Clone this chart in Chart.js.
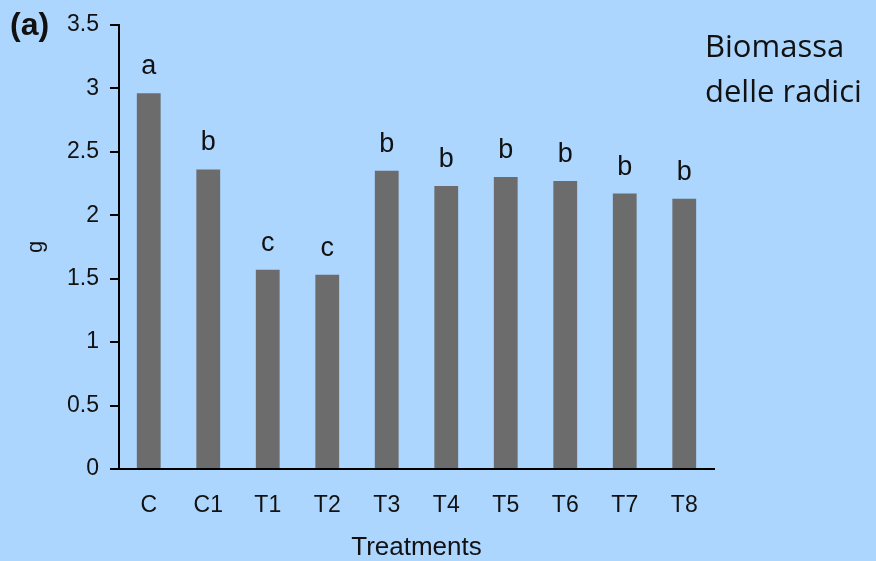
<!DOCTYPE html>
<html>
<head>
<meta charset="utf-8">
<script src="https://cdn.jsdelivr.net/npm/chart.js@4.4.0/dist/chart.umd.min.js"></script>
<style>
  html, body { margin: 0; padding: 0; background: #acd6fe; }
  #wrap { width: 876px; height: 561px; position: relative; }
</style>
</head>
<body>
<div id="wrap"><canvas id="myChart" width="876" height="561"></canvas></div>
<script>
const treatments = ['C', 'C1', 'T1', 'T2', 'T3', 'T4', 'T5', 'T6', 'T7', 'T8']
const biomass = [2.96, 2.36, 1.57, 1.53, 2.35, 2.23, 2.30, 2.27, 2.17, 2.13]
const groups = ['a', 'b', 'c', 'c', 'b', 'b', 'b', 'b', 'b', 'b']
const yTicks = [0, 0.5, 1, 1.5, 2, 2.5, 3, 3.5]

const ink = '#111111'

// letters over the bars + panel tag + side text
const extraText = {
    id: 'extraText',
    afterDatasetsDraw(chart) {
        const ctx = chart.ctx
        const meta = chart.getDatasetMeta(0)
        ctx.save()
        ctx.fillStyle = ink
        ctx.textAlign = 'center'
        ctx.textBaseline = 'alphabetic'
        ctx.font = '27px "Liberation Sans", Arial, sans-serif'
        meta.data.forEach((bar, i) => {
            ctx.fillText(groups[i], bar.x, bar.y - 19)
        })
        ctx.textAlign = 'left'
        ctx.font = 'bold 32px "Liberation Sans", Arial, sans-serif'
        ctx.fillText('(a)', 10, 35)
        ctx.font = '31px "Open Sans", "Noto Sans", sans-serif'
        ctx.fillText('Biomassa', 705, 57)
        ctx.fillText('delle radici', 705, 102)
        ctx.restore()
    }
}

let ctx = document.getElementById('myChart').getContext('2d')
let myChart = new Chart(ctx, {
    type: 'bar',
    data: {
        labels: treatments,
        datasets: [{
            data: biomass,
            backgroundColor: '#6c6c6c',
            borderWidth: 0,
            barPercentage: 0.4,
            categoryPercentage: 1
        }]
    },
    options: {
        responsive: false,
        animation: false,
        layout: { padding: { top: 24, right: 162, bottom: 0, left: 0 } },
        plugins: {
            legend: { display: false },
            tooltip: { enabled: false }
        },
        scales: {
            x: {
                grid: { drawOnChartArea: false, drawTicks: false },
                border: { display: true, color: '#000', width: 2 },
                ticks: {
                    color: ink,
                    padding: 23,
                    font: { family: '"Liberation Sans", Arial, sans-serif', size: 23 }
                },
                title: {
                    display: true,
                    text: 'Treatments',
                    color: ink,
                    padding: { top: 0, bottom: 0 },
                    font: { family: '"Liberation Sans", Arial, sans-serif', size: 26, lineHeight: 1 }
                },
                afterFit: (s) => { s.height = 92 }
            },
            y: {
                min: 0,
                max: 3.5,
                afterBuildTicks: (s) => { s.ticks = yTicks.map(v => ({ value: v })) },
                grid: { drawOnChartArea: false, drawTicks: true, tickLength: 9, color: '#000', lineWidth: 2 },
                border: { display: true, color: '#000', width: 2 },
                ticks: {
                    color: ink,
                    padding: 11,
                    callback: (v) => String(v),
                    font: { family: '"Liberation Sans", Arial, sans-serif', size: 23 }
                },
                title: {
                    display: true,
                    text: 'g',
                    color: ink,
                    padding: { top: 25, bottom: 0 },
                    font: { family: '"Liberation Sans", Arial, sans-serif', size: 22, lineHeight: 1 }
                },
                afterFit: (s) => { s.width = 119 }
            }
        }
    },
    plugins: [extraText]
})
</script>
</body>
</html>
